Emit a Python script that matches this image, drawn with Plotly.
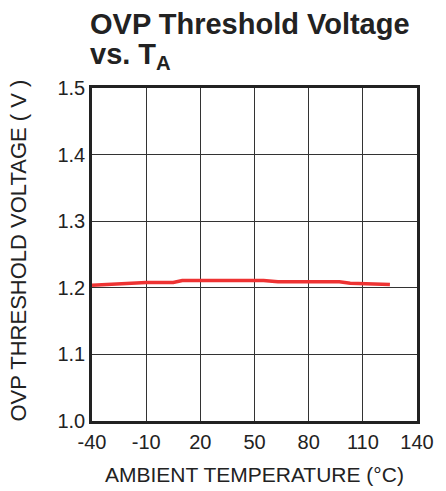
import plotly.graph_objects as go

temps = [-40, -10, 5, 10, 55, 63, 97, 103, 125]
volts = [1.204, 1.208, 1.208, 1.211, 1.211, 1.209, 1.209, 1.207, 1.205]
x_ticks = [-40, -10, 20, 50, 80, 110, 140]
y_ticks = [1.0, 1.1, 1.2, 1.3, 1.4, 1.5]

FONT = "Liberation Sans, Arial, sans-serif"

fig = go.Figure()
fig.add_trace(go.Scatter(x=temps, y=volts, mode="lines",
                         line=dict(color="#ee3333", width=3.5), showlegend=False))

L, R, T, B = 92, 18, 88, 70
W, H = 446, 491
pw, ph = W - L - R, H - T - B

def px_x(px):
    return (px - L) / pw

def px_y(py):
    return 1 - (py - T) / ph

fig.update_layout(
    width=W, height=H,
    margin=dict(l=L, r=R, t=T, b=B),
    paper_bgcolor="white", plot_bgcolor="white",
    font=dict(family=FONT, color="#222"),
    xaxis=dict(range=[-40, 140], tickvals=x_ticks, ticktext=[str(v) for v in x_ticks],
               showgrid=True, gridcolor="#333", gridwidth=1, zeroline=False,
               showline=True, linecolor="#222", linewidth=2.5, mirror=True,
               ticks="", ticklabelstandoff=1,
               tickfont=dict(size=20, family=FONT, color="#222")),
    yaxis=dict(range=[1.0, 1.5], tickvals=y_ticks, ticktext=[f"{v:.1f}" for v in y_ticks],
               showgrid=True, gridcolor="#333", gridwidth=1, zeroline=False,
               showline=True, linecolor="#222", linewidth=2.5, mirror=True,
               ticks="", tickfont=dict(size=20, family=FONT, color="#222")),
)

fig.add_annotation(text="<b>OVP Threshold Voltage</b>",
                   xref="paper", yref="paper", x=px_x(88), y=px_y(24),
                   xanchor="left", yanchor="middle", align="left", showarrow=False,
                   font=dict(size=29, family=FONT, color="#222"))
fig.add_annotation(text="<b>vs. T<sub>A</sub></b>",
                   xref="paper", yref="paper", x=px_x(88), y=px_y(56),
                   xanchor="left", yanchor="middle", align="left", showarrow=False,
                   font=dict(size=29, family=FONT, color="#222"))
fig.add_annotation(text="AMBIENT TEMPERATURE (°C)", xref="paper", yref="paper",
                   x=px_x(260), y=px_y(475), xanchor="center", yanchor="middle",
                   showarrow=False, font=dict(size=21, family=FONT, color="#222"))
fig.add_annotation(text="OVP THRESHOLD VOLTAGE ( V )", xref="paper", yref="paper",
                   x=px_x(15), y=px_y(251), xanchor="center", yanchor="middle",
                   textangle=-90, showarrow=False, font=dict(size=22, family=FONT, color="#222"))

fig.write_html("out.html", config={"displayModeBar": False},
               post_script="document.body.style.margin='0';")
